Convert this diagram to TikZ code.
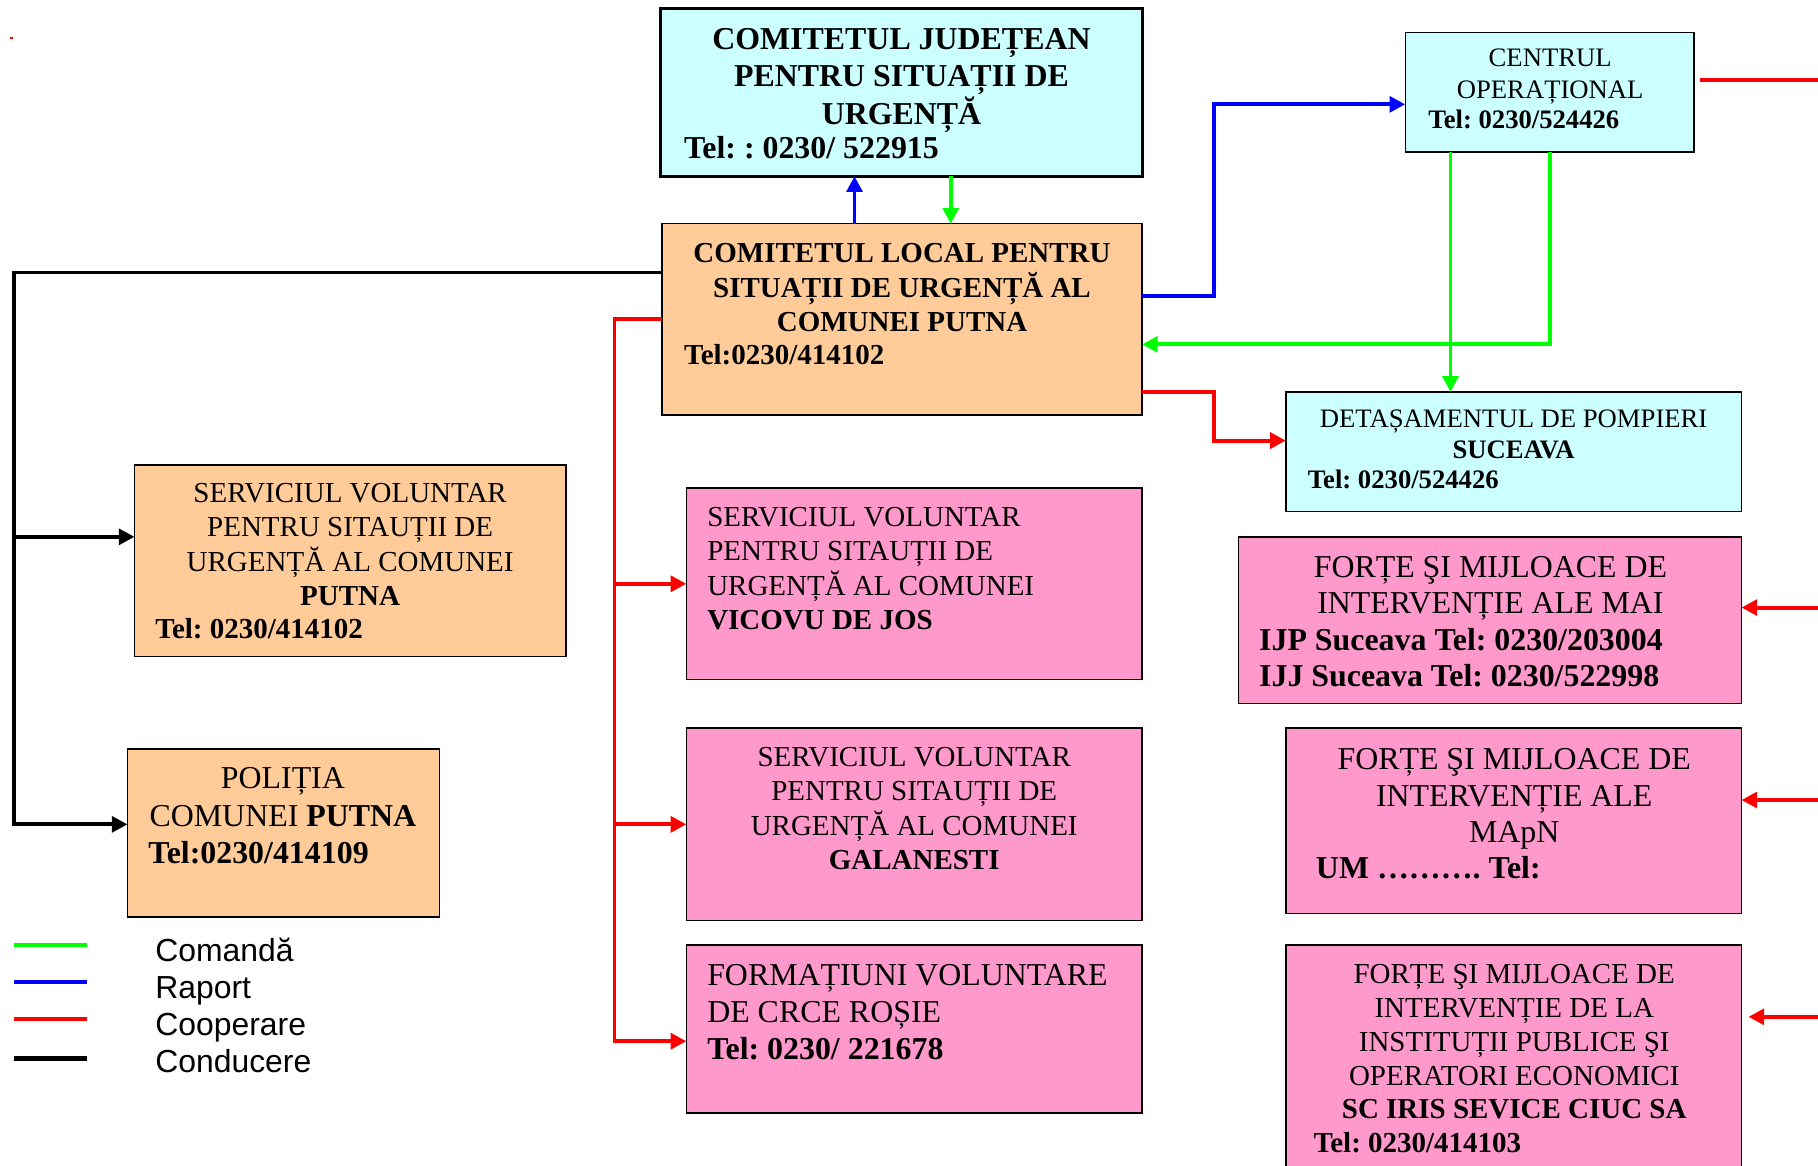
\documentclass[tikz,border=0pt]{standalone}
\usepackage{fontspec}
\setmainfont{Liberation Serif}
\newfontfamily\legendfont{Liberation Sans}
\usetikzlibrary{arrows.meta}
\definecolor{cyanbox}{HTML}{CCFFFF}
\definecolor{peachbox}{HTML}{FFCC99}
\definecolor{pinkbox}{HTML}{FF99CC}
\definecolor{cgreen}{HTML}{00FF00}
\definecolor{cblue}{HTML}{0000FF}
\definecolor{cred}{HTML}{FF0000}
\newcommand{\fsz}[2]{\fontsize{#1}{#2}\selectfont}
\frenchspacing
\begin{document}
\frenchspacing
\begin{tikzpicture}[x=1pt,y=-1pt,
  box/.style={draw=black, line width=1.2pt, inner sep=0pt, outer sep=0pt, anchor=north west},
  tx/.style={inner sep=0pt, outer sep=0pt, font=\frenchspacing},
  conn/.style={line width=3.4pt, -{Triangle[length=13.5pt,width=13.5pt]}},
  comanda/.style={conn, draw=cgreen},
  raport/.style={conn, draw=cblue},
  coop/.style={conn, draw=cred},
  cond/.style={conn, draw=black},
  swatch/.style={line width=4pt}
]
\useasboundingbox (0,0) rectangle (1568,1005);
\clip (0,0) rectangle (1568,1005);
\fill[white] (0,0) rectangle (1568,1005);

% ---- boxes ----
\node[box, fill=cyanbox, line width=2.5pt, minimum width=415pt, minimum height=145pt] (jud) at (570,7) {};
\node[box, fill=peachbox, minimum width=414pt, minimum height=165pt] (loc) at (571,193) {};
\node[box, fill=cyanbox, minimum width=249pt, minimum height=103pt] (cen) at (1212,28) {};
\node[box, fill=cyanbox, minimum width=393pt, minimum height=103pt] (det) at (1109,338) {};
\node[box, fill=peachbox, minimum width=372pt, minimum height=165pt] (spu) at (116,401) {};
\node[box, fill=peachbox, minimum width=269pt, minimum height=145pt] (pol) at (110,646) {};
\node[box, fill=pinkbox, minimum width=393pt, minimum height=165pt] (vic) at (592,421) {};
\node[box, fill=pinkbox, minimum width=393pt, minimum height=166pt] (gal) at (592,628) {};
\node[box, fill=pinkbox, minimum width=393pt, minimum height=145pt] (cru) at (592,815) {};
\node[box, fill=pinkbox, minimum width=434pt, minimum height=144pt] (mai) at (1068,463) {};
\node[box, fill=pinkbox, minimum width=393pt, minimum height=160pt] (mapn) at (1109,628) {};
\node[box, fill=pinkbox, minimum width=393pt, minimum height=205pt] (inst) at (1109,815) {};

% ---- texts ----
\node[tx, anchor=base] (judT) at (777.5,43) {\fsz{27.5}{31.3}\bfseries\begin{tabular}[t]{@{}c@{}}COMITETUL JUDEȚEAN\\PENTRU SITUAȚII DE\\URGENȚĂ\end{tabular}};
\node[tx, anchor=base west] (judTel) at (590,137) {\fsz{27.5}{31.3}\bfseries Tel: : 0230/ 522915};

\node[tx, anchor=base] (locT) at (778,226.5) {\fsz{25}{29.3}\bfseries\begin{tabular}[t]{@{}c@{}}COMITETUL LOCAL PENTRU\\SITUAȚII DE URGENȚĂ AL\\COMUNEI PUTNA\end{tabular}};
\node[tx, anchor=base west] (locTel) at (590,314.5) {\fsz{25}{29.3}\bfseries Tel:0230/414102};

\node[tx, anchor=base] (cenT) at (1337,57.6) {\fsz{23}{27}\begin{tabular}[t]{@{}c@{}}CENTRUL\\OPERAȚIONAL\end{tabular}};
\node[tx, anchor=base west] (cenTel) at (1232,110.6) {\fsz{23}{27}\bfseries Tel: 0230/524426};

\node[tx, anchor=base] (detT) at (1305.5,368.6) {\fsz{23}{27}\begin{tabular}[t]{@{}c@{}}DETAȘAMENTUL DE POMPIERI\\\textbf{SUCEAVA}\end{tabular}};
\node[tx, anchor=base west] (detTel) at (1128,421.6) {\fsz{23}{27}\bfseries Tel: 0230/524426};

\node[tx, anchor=base] (spuT) at (302,433.3) {\fsz{25}{29.3}\begin{tabular}[t]{@{}c@{}}SERVICIUL VOLUNTAR\\PENTRU SITAUȚII DE\\URGENȚĂ AL COMUNEI\\\textbf{PUTNA}\end{tabular}};
\node[tx, anchor=base west] (spuTel) at (134,550.5) {\fsz{25}{29.3}\bfseries Tel: 0230/414102};

\node[tx, anchor=base] (polT) at (244,680) {\fsz{27.5}{32.5}\begin{tabular}[t]{@{}c@{}}POLIȚIA\\COMUNEI \textbf{PUTNA}\end{tabular}};
\node[tx, anchor=base west] (polTel) at (128,745) {\fsz{27.5}{32.5}\bfseries Tel:0230/414109};

\node[tx, anchor=base west] (vicT) at (610,454.3) {\fsz{25}{29.3}\begin{tabular}[t]{@{}l@{}}SERVICIUL VOLUNTAR\\PENTRU SITAUȚII DE\\URGENȚĂ AL COMUNEI\\\textbf{VICOVU DE JOS}\end{tabular}};

\node[tx, anchor=base] (galT) at (788.5,661.3) {\fsz{25}{29.3}\begin{tabular}[t]{@{}c@{}}SERVICIUL VOLUNTAR\\PENTRU SITAUȚII DE\\URGENȚĂ AL COMUNEI\\\textbf{GALANESTI}\end{tabular}};

\node[tx, anchor=base west] (cruT) at (610,850) {\fsz{27.5}{32}\begin{tabular}[t]{@{}l@{}}FORMAȚIUNI VOLUNTARE\\DE CRCE ROȘIE\\\textbf{Tel: 0230/ 221678}\end{tabular}};

\node[tx, anchor=base] (maiT) at (1285.5,498) {\fsz{27.5}{31.5}\begin{tabular}[t]{@{}c@{}}FORȚE ŞI MIJLOACE DE\\INTERVENȚIE ALE MAI\end{tabular}};
\node[tx, anchor=base west] (maiTel) at (1086,561) {\fsz{27.5}{31.5}\bfseries\begin{tabular}[t]{@{}l@{}}IJP Suceava Tel: 0230/203004\\IJJ Suceava Tel: 0230/522998\end{tabular}};

\node[tx, anchor=base] (mapnT) at (1306,664) {\fsz{27.5}{31.3}\begin{tabular}[t]{@{}c@{}}FORȚE ŞI MIJLOACE DE\\INTERVENȚIE ALE\\MApN\end{tabular}};
\node[tx, anchor=base west] (mapnTel) at (1135,758) {\fsz{27.5}{31.3}\bfseries UM ………. Tel:};

\node[tx, anchor=base] (instT) at (1306,848.3) {\fsz{25}{29.2}\begin{tabular}[t]{@{}c@{}}FORȚE ŞI MIJLOACE DE\\INTERVENȚIE DE LA\\INSTITUȚII PUBLICE ŞI\\OPERATORI ECONOMICI\\\textbf{SC IRIS SEVICE CIUC SA}\end{tabular}};
\node[tx, anchor=base west] (instTel) at (1133,994.3) {\fsz{25}{29.2}\bfseries Tel: 0230/414103};

% ---- helper coordinates ----
\coordinate (trunkK) at (12,0);
\coordinate (trunkR) at (530,0);
\coordinate (spuIn) at ([yshift=20.5pt]spu.west);
\coordinate (polIn) at ([yshift=7.5pt]pol.west);
\coordinate (cruIn) at ([yshift=-10.5pt]cru.west);
\coordinate (cenOutA) at ([xshift=-85.5pt]cen.south);
\coordinate (cenOutB) at ([xshift=0.5pt]cen.south);
\coordinate (cenRed) at ([xshift=5pt,yshift=10.5pt]cen.east);
\coordinate (cenRedEnd) at (1580,69);
\coordinate (maiSrc) at (1580,524);
\coordinate (mapnSrc) at (1580,690);
\coordinate (instSrc) at (1580,877);
\coordinate (instTip) at ([xshift=6pt]inst.east);
\coordinate (upX) at ([xshift=-41pt]loc.north);
\coordinate (downX) at ([xshift=42.5pt]jud.south);

% ---- connectors ----
\draw[raport] (upX) -- (upX |- jud.south);
\draw[comanda] (downX) -- (downX |- loc.north);
\draw[raport] ([yshift=20.5pt]loc.east) -- ++(62,0) |- ([yshift=-10.5pt]cen.west);
\draw[comanda] (cenOutB) |- ([yshift=-21.5pt]loc.east);
\draw[comanda] (cenOutA) -- (cenOutA |- det.north);
\draw[coop] ([yshift=-62.5pt]loc.east) -- ++(62,0) |- ([yshift=9.5pt]det.west);
\draw[cred, line width=3.4pt] (cenRed) -- (cenRedEnd);
\draw[coop] (maiSrc) -- (mai.east |- maiSrc);
\draw[coop] (mapnSrc) -- (mapn.east |- mapnSrc);
\draw[coop] (instSrc) -- (instTip |- instSrc);

\draw[cond] ([yshift=40.5pt]loc.west) -| (trunkK |- polIn) -- (polIn);
\draw[cond] (trunkK |- spuIn) -- (spuIn);

\draw[coop] (loc.west) -| (trunkR |- cruIn) -- (cruIn);
\draw[coop] (trunkR |- vic.west) -- (vic.west);
\draw[coop] (trunkR |- gal.west) -- (gal.west);

% ---- stray red dot ----
\fill[cred] (9,32) rectangle (11,34);

% ---- legend ----
\draw[swatch, cgreen] (12,815) -- (75,815);
\draw[swatch, cblue] (12,847) -- (75,847);
\draw[swatch, cred] (12,879) -- (75,879);
\draw[swatch, black] (12,913) -- (75,913);
\node[tx, anchor=base west] (lg1) at (134,829) {\legendfont\fsz{27.5}{32}Comandă};
\node[tx, anchor=base west] (lg2) at (134,861) {\legendfont\fsz{27.5}{32}Raport};
\node[tx, anchor=base west] (lg3) at (134,893) {\legendfont\fsz{27.5}{32}Cooperare};
\node[tx, anchor=base west] (lg4) at (134,925) {\legendfont\fsz{27.5}{32}Conducere};
\end{tikzpicture}
\end{document}
